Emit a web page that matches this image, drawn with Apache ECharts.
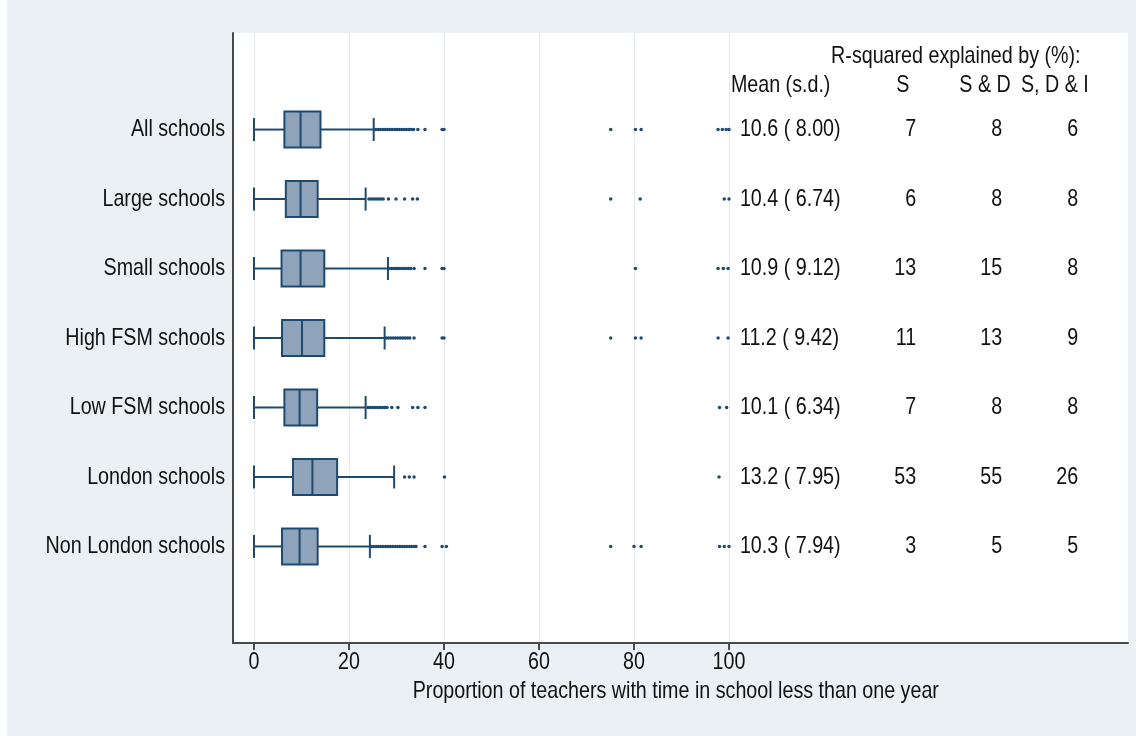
<!DOCTYPE html>
<html>
<head>
<meta charset="utf-8">
<script src="https://cdn.jsdelivr.net/npm/echarts@6/dist/echarts.min.js"></script>
<style>
  html, body { margin: 0; padding: 0; background: #ffffff; }
  #chart { position: absolute; left: 0; top: 0; width: 1136px; height: 736px; }
</style>
</head>
<body>
<div id="chart"></div>
<script>
// ---------------- DATA ----------------
const categories = ['All schools', 'Large schools', 'Small schools', 'High FSM schools',
                    'Low FSM schools', 'London schools', 'Non London schools'];
// box plot statistics (lower whisker, Q1, median, Q3, upper whisker)
const whiskerLow  = [0, 0, 0, 0, 0, 0, 0];
const quartile1   = [6.4, 6.7, 5.8, 5.9, 6.4, 8.2, 5.9];
const medians     = [9.8, 9.8, 9.8, 10.1, 9.6, 12.3, 9.6];
const quartile3   = [14.0, 13.4, 14.8, 14.8, 13.3, 17.5, 13.4];
const whiskerHigh = [25.2, 23.5, 28.2, 27.5, 23.5, 29.5, 24.4];
// outside values per group
const outliersAll    = [25.6, 26.1, 26.6, 27.1, 27.6, 28.1, 28.6, 29.1, 29.6, 30.1, 30.6, 31.1, 31.6, 32.1, 32.6, 33.1, 33.6, 34.5, 36.0, 39.6, 40.0, 75.1, 80.3, 81.5, 97.7, 98.6, 99.4, 100];
const outliersLarge  = [24.2, 24.7, 25.2, 25.7, 26.2, 26.7, 27.2, 28.3, 29.9, 31.7, 33.4, 34.4, 75.1, 81.3, 99.0, 100];
const outliersSmall  = [28.5, 29.0, 29.5, 30.0, 30.5, 31.0, 31.5, 32.0, 32.5, 33.0, 33.7, 36.0, 39.6, 40.0, 80.3, 97.7, 98.8, 99.8];
const outliersHigh   = [27.8, 28.3, 28.8, 29.3, 29.8, 30.3, 30.8, 31.3, 31.8, 32.3, 32.8, 33.7, 39.6, 40.0, 75.1, 80.3, 81.5, 97.7, 99.8];
const outliersLow    = [24.0, 24.5, 25.0, 25.5, 26.0, 26.5, 27.0, 27.5, 28.0, 29.0, 30.3, 33.4, 34.5, 36.0, 98.0, 99.5];
const outliersLondon = [31.7, 32.7, 33.7, 40.1, 97.9];
const outliersNonLon = [24.7, 25.2, 25.7, 26.2, 26.7, 27.2, 27.7, 28.2, 28.7, 29.2, 29.7, 30.2, 30.7, 31.2, 31.7, 32.2, 32.7, 33.2, 33.7, 34.1, 36.0, 39.6, 40.5, 75.1, 80.0, 81.5, 98.0, 99.0, 100];
const outlierGroups = [outliersAll, outliersLarge, outliersSmall, outliersHigh, outliersLow, outliersLondon, outliersNonLon];
// table columns
const means  = [10.6, 10.4, 10.9, 11.2, 10.1, 13.2, 10.3];
const sds    = [8.00, 6.74, 9.12, 9.42, 6.34, 7.95, 7.94];
const r2S    = [7, 6, 13, 11, 7, 53, 3];
const r2SD   = [8, 8, 15, 13, 8, 55, 5];
const r2SDI  = [6, 8, 8, 9, 8, 26, 5];
const tableTitle = 'R-squared explained by (%):';
const colHeaders = ['Mean (s.d.)', 'S', 'S & D', 'S, D & I'];
const xTicks = [0, 20, 40, 60, 80, 100];
const xTitle = 'Proportion of teachers with time in school less than one year';

// ---------------- LAYOUT / STYLE ----------------
const FONT = "'Liberation Sans', Arial, Helvetica, sans-serif";
const FS = 24;
const NARROW = 0.82;          // horizontal squeeze to imitate a narrow typeface
const TXT = '#111111';
const NAVY = '#1f4a70';
const BOXFILL = '#8fa3ba';
const X_MIN = -4.42, X_MAX = 184, Y_MIN = -0.39, Y_MAX = 8.39;
// text anchors in axis units
const colX = { meanLeft: 102.3, sRight: 139.4, sdRight: 157.5, sdiRight: 173.5,
               hMean: 100.4, hS: 136.6, hSD: 153.9, hSDI: 168.6, title: 121.5, xName: 88.8 };
const headerY = 0.37, titleY = -0.05;

const rows = categories.map((c, i) => [i + 1, whiskerLow[i], quartile1[i], medians[i], quartile3[i], whiskerHigh[i]]);
const outlierData = [];
outlierGroups.forEach((g, i) => g.forEach(v => outlierData.push([v, i + 1])));

// all texts: anchor in axis units + alignment + pixel offset
const texts = [];
categories.forEach((c, i) => texts.push({ x: X_MIN, y: i + 1, t: c, align: 'right', dx: -8, dy: 0 }));
xTicks.forEach(v => texts.push({ x: v, y: Y_MAX, t: String(v), align: 'center', dx: 0, dy: 19 }));
texts.push({ x: colX.xName, y: Y_MAX, t: xTitle, align: 'center', dx: 0, dy: 48 });
texts.push({ x: colX.title, y: titleY, t: tableTitle, align: 'left', dx: 0, dy: 0 });
texts.push({ x: colX.hMean, y: headerY, t: colHeaders[0], align: 'left', dx: 0, dy: 0 });
texts.push({ x: colX.hS, y: headerY, t: colHeaders[1], align: 'center', dx: 0, dy: 0 });
texts.push({ x: colX.hSD, y: headerY, t: colHeaders[2], align: 'center', dx: 0, dy: 0 });
texts.push({ x: colX.hSDI, y: headerY, t: colHeaders[3], align: 'center', dx: 0, dy: 0 });
categories.forEach((c, i) => {
  texts.push({ x: colX.meanLeft, y: i + 1, t: means[i].toFixed(1) + ' ( ' + sds[i].toFixed(2) + ')', align: 'left', dx: 0, dy: 0 });
  texts.push({ x: colX.sRight, y: i + 1, t: String(r2S[i]), align: 'right', dx: 0, dy: 0 });
  texts.push({ x: colX.sdRight, y: i + 1, t: String(r2SD[i]), align: 'right', dx: 0, dy: 0 });
  texts.push({ x: colX.sdiRight, y: i + 1, t: String(r2SDI[i]), align: 'right', dx: 0, dy: 0 });
});

const chart = echarts.init(document.getElementById('chart'), null, { renderer: 'canvas' });
chart.setOption({
  backgroundColor: '#eaf0f3',
  animation: false,
  graphic: [{ type: 'rect', left: 0, top: 0, z: -10, shape: { width: 7, height: 736 }, style: { fill: '#ffffff' } }],
  grid: { left: 233, top: 33, width: 895, height: 610, show: true, backgroundColor: '#ffffff', borderWidth: 0 },
  xAxis: {
    type: 'value', min: X_MIN, max: X_MAX,
    axisLine: { show: true, onZero: false, lineStyle: { color: '#4a4a4a', width: 2 } },
    axisTick: { show: true, customValues: xTicks, length: 7, lineStyle: { color: '#4a4a4a', width: 2 } },
    axisLabel: { show: false, customValues: xTicks },
    splitLine: { show: true, lineStyle: { color: '#e4e9ec', width: 1 } }
  },
  yAxis: {
    type: 'value', inverse: true, min: Y_MIN, max: Y_MAX,
    axisLine: { show: true, onZero: false, lineStyle: { color: '#4a4a4a', width: 2 } },
    axisTick: { show: false },
    axisLabel: { show: false },
    splitLine: { show: false }
  },
  series: [
    {
      type: 'custom', z: 3,
      data: rows,
      encode: { x: [1, 2, 3, 4, 5], y: 0 },
      renderItem: function (params, api) {
        const y = api.value(0);
        const p = k => api.coord([api.value(k), y]);
        const lo = p(1), q1 = p(2), md = p(3), q3 = p(4), hi = p(5);
        const cy = lo[1], bh = 18, ch = 11.5;
        const ls = { stroke: NAVY, lineWidth: 2 };
        return {
          type: 'group',
          children: [
            { type: 'line', shape: { x1: lo[0], y1: cy, x2: q1[0], y2: cy }, style: ls },
            { type: 'line', shape: { x1: q3[0], y1: cy, x2: hi[0], y2: cy }, style: ls },
            { type: 'line', shape: { x1: lo[0], y1: cy - ch, x2: lo[0], y2: cy + ch }, style: ls },
            { type: 'line', shape: { x1: hi[0], y1: cy - ch, x2: hi[0], y2: cy + ch }, style: ls },
            { type: 'rect', shape: { x: q1[0], y: cy - bh, width: q3[0] - q1[0], height: 2 * bh },
              style: { fill: BOXFILL, stroke: NAVY, lineWidth: 2 } },
            { type: 'line', shape: { x1: md[0], y1: cy - bh, x2: md[0], y2: cy + bh }, style: ls }
          ]
        };
      }
    },
    {
      type: 'scatter', z: 2, symbol: 'circle', symbolSize: 3.5,
      itemStyle: { color: NAVY, opacity: 1 },
      data: outlierData
    },
    {
      type: 'custom', z: 6, clip: false, silent: true,
      data: texts.map(it => [it.x, it.y]),
      encode: { x: 0, y: 1 },
      renderItem: function (params, api) {
        const it = texts[params.dataIndex];
        const c = api.coord([api.value(0), api.value(1)]);
        return {
          type: 'text',
          x: c[0] + it.dx, y: c[1] + it.dy,
          scaleX: NARROW, scaleY: 1,
          style: { text: it.t, fontFamily: FONT, fontSize: FS, fill: TXT,
                   align: it.align, verticalAlign: 'middle' }
        };
      }
    }
  ]
});
</script>
</body>
</html>
